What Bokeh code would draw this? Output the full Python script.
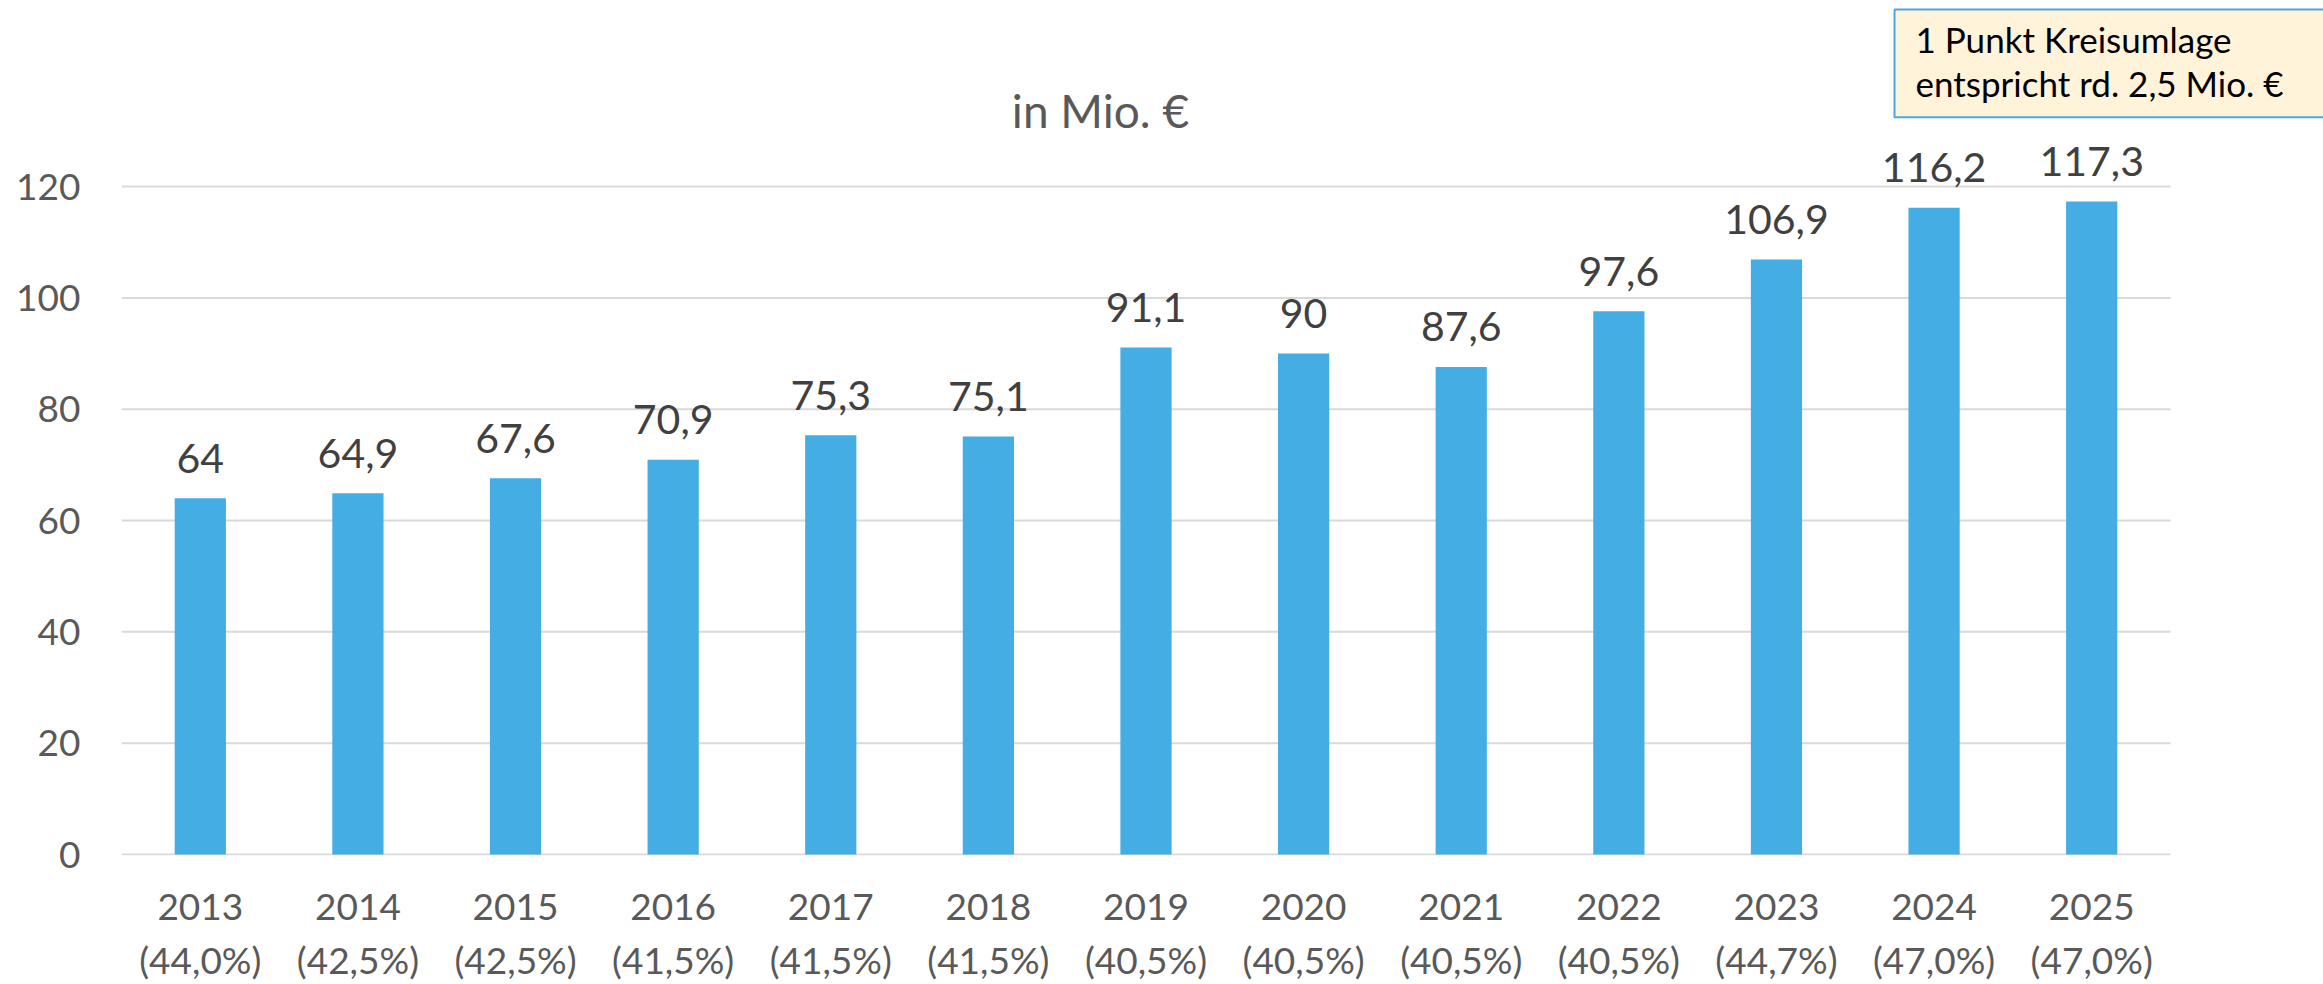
from bokeh.plotting import figure
from bokeh.models import Range1d, FixedTicker, ColumnDataSource
from bokeh.embed import file_html
from bokeh.resources import INLINE
from bokeh.core.properties import value

# ---- data ----
years = ["2013", "2014", "2015", "2016", "2017", "2018", "2019",
         "2020", "2021", "2022", "2023", "2024", "2025"]
rates = ["44,0%", "42,5%", "42,5%", "41,5%", "41,5%", "41,5%", "40,5%",
         "40,5%", "40,5%", "40,5%", "44,7%", "47,0%", "47,0%"]
amounts = [64, 64.9, 67.6, 70.9, 75.3, 75.1, 91.1, 90, 87.6, 97.6, 106.9, 116.2, 117.3]
y_ticks = [0, 20, 40, 60, 80, 100, 120]
title_text = "in Mio. €"
note_lines = ["1 Punkt Kreisumlage", "entspricht rd. 2,5 Mio. €"]


def fmt(v):
    s = f"{v:.1f}".replace(".", ",")
    return s[:-2] if s.endswith(",0") else s


# ---- layout constants (pixels) ----
W, H = 2323, 984
LEFT_BORDER = 121
BOTTOM_BORDER = 127
CAT_PX = 2049 / 13.0             # pixels per category
UNIT_PX = (856 - 186.5) / 120.0  # pixels per y unit
FRAME_W = W - LEFT_BORDER
FRAME_H = H - BOTTOM_BORDER
Y0_PX = 856                      # canvas y of value 0

y_start = -(FRAME_H - Y0_PX) / UNIT_PX
y_end = y_start + FRAME_H / UNIT_PX
x_start = -0.5
x_end = x_start + FRAME_W / CAT_PX


def dx(px):
    return (px - LEFT_BORDER) / CAT_PX - 0.5


def dy(py):
    return (Y0_PX - py) / UNIT_PX


FONT = value("Lato")

idx = list(range(len(years)))
src = ColumnDataSource(dict(x=idx, top=amounts, label=[fmt(v) for v in amounts]))

p = figure(width=W, height=H, output_backend="svg", toolbar_location=None,
           x_range=Range1d(x_start, x_end), y_range=Range1d(y_start, y_end),
           min_border_left=LEFT_BORDER, min_border_right=0, min_border_top=0,
           min_border_bottom=BOTTOM_BORDER)
p.outline_line_color = None
p.background_fill_color = "white"
p.border_fill_color = "white"
p.xgrid.visible = False
p.ygrid.visible = False

# gridlines limited to the category area
p.segment(x0=[-0.5] * len(y_ticks), x1=[len(years) - 0.5] * len(y_ticks),
          y0=y_ticks, y1=y_ticks, line_color="#D9D9D9", line_width=2)

p.vbar(x="x", top="top", width=0.325, bottom=0, source=src,
       fill_color="#44AEE4", line_color=None)

p.text(x="x", y="top", text="label", source=src, text_align="center",
       text_baseline="alphabetic", y_offset=-40, text_font=FONT,
       text_font_size="41px", text_color="#404040")

# title
p.text(x=[dx(1100)], y=[dy(110)], text=[title_text], text_align="center",
       text_baseline="alphabetic", text_font=FONT, text_font_size="46px",
       text_color="#595959")

# note box
p.quad(left=[dx(1894)], right=[x_end + 1], top=[dy(9)], bottom=[dy(117)],
       fill_color="#FFF4DA", line_color="#4AA8E0", line_width=2)
p.text(x=[dx(1915), dx(1915)], y=[dy(39), dy(83)], text=note_lines,
       text_align="left", text_baseline="alphabetic", text_font=FONT,
       text_font_size="35px", text_color="#000000")

# y axis
ya = p.yaxis[0]
ya.ticker = FixedTicker(ticks=y_ticks)
ya.axis_line_color = None
ya.major_tick_line_color = None
ya.minor_tick_line_color = None
ya.major_tick_out = 0
ya.major_tick_in = 0
ya.major_label_standoff = 41
ya.major_label_text_font = "Lato"
ya.major_label_text_font_size = "37px"
ya.major_label_text_color = "#595959"

# x axis
xa = p.xaxis[0]
xa.ticker = FixedTicker(ticks=idx)
xa.major_label_overrides = {i: f"{years[i]}\n({rates[i]})" for i in idx}
xa.axis_line_color = None
xa.major_tick_line_color = None
xa.minor_tick_line_color = None
xa.major_tick_out = 0
xa.major_tick_in = 0
xa.major_label_standoff = 27
xa.major_label_text_font = "Lato"
xa.major_label_text_font_size = "37px"
xa.major_label_text_color = "#595959"
xa.major_label_text_line_height = 1.2

open("out.html", "w").write(file_html(p, INLINE))
